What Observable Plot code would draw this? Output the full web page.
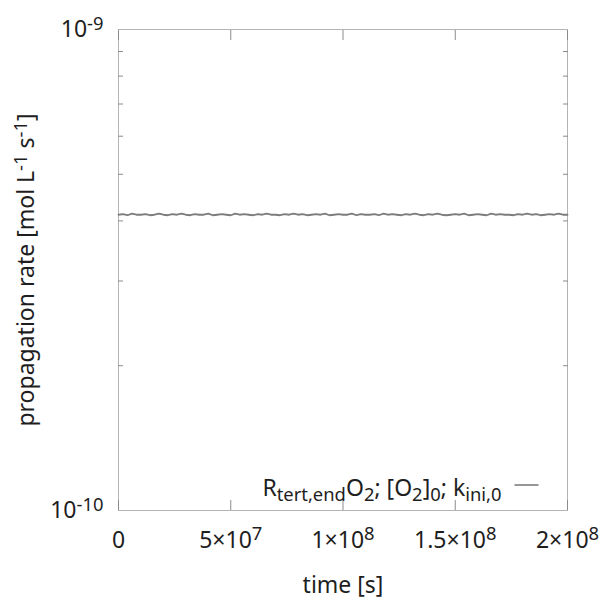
<!DOCTYPE html>
<html>
<head>
<meta charset="utf-8">
<script src="https://cdn.jsdelivr.net/npm/d3@7"></script>
<script src="https://cdn.jsdelivr.net/npm/@observablehq/plot@0.6"></script>
<style>
  body { margin: 0; background: #fff; }
  #chart svg { display: block; }
</style>
</head>
<body>
<div id="chart"></div>
<script>
// ---- data (time in units of 1e6 s, rate in units of 1e-10 mol L^-1 s^-1) ----
const timeMillions = [
  0, 2, 4, 6, 8, 10, 12, 14, 16, 18,
  20, 22, 24, 26, 28, 30, 32, 34, 36, 38,
  40, 42, 44, 46, 48, 50, 52, 54, 56, 58,
  60, 62, 64, 66, 68, 70, 72, 74, 76, 78,
  80, 82, 84, 86, 88, 90, 92, 94, 96, 98,
  100, 102, 104, 106, 108, 110, 112, 114, 116, 118,
  120, 122, 124, 126, 128, 130, 132, 134, 136, 138,
  140, 142, 144, 146, 148, 150, 152, 154, 156, 158,
  160, 162, 164, 166, 168, 170, 172, 174, 176, 178,
  180, 182, 184, 186, 188, 190, 192, 194, 196, 198,
  200
];
const rateE10 = [
  4.12, 4.13, 4.11, 4.14, 4.12, 4.12, 4.13, 4.11, 4.12, 4.14,
  4.12, 4.11, 4.13, 4.12, 4.14, 4.12, 4.11, 4.13, 4.12, 4.12,
  4.14, 4.11, 4.12, 4.13, 4.12, 4.11, 4.14, 4.12, 4.13, 4.12,
  4.11, 4.13, 4.12, 4.14, 4.12, 4.12, 4.11, 4.13, 4.12, 4.14,
  4.12, 4.13, 4.11, 4.12, 4.13, 4.12, 4.14, 4.11, 4.12, 4.13,
  4.12, 4.12, 4.14, 4.11, 4.13, 4.12, 4.12, 4.13, 4.11, 4.14,
  4.12, 4.13, 4.12, 4.11, 4.13, 4.12, 4.14, 4.12, 4.11, 4.13,
  4.12, 4.14, 4.12, 4.11, 4.12, 4.13, 4.12, 4.14, 4.11, 4.12,
  4.13, 4.12, 4.11, 4.14, 4.12, 4.13, 4.12, 4.12, 4.11, 4.13,
  4.12, 4.14, 4.12, 4.13, 4.11, 4.12, 4.13, 4.12, 4.14, 4.12,
  4.12
];
const xTickValues = [0, 5e7, 1e8, 1.5e8, 2e8];
const xTickLabels = ["0", "5×10^{7}", "1×10^{8}", "1.5×10^{8}", "2×10^{8}"];
const yTickValues = [1e-10, 1e-9];
const yTickLabels = ["10^{-10}", "10^{-9}"];
const yMinorTicks = [2e-10, 3e-10, 4e-10, 5e-10, 6e-10, 7e-10, 8e-10, 9e-10];
const xLabel = "time [s]";
const yLabel = "propagation rate [mol L^{-1} s^{-1}]";
const legendLabel = "R_{tert,end}O_{2}; [O_{2}]_{0}; k_{ini,0}";

const series = timeMillions.map((t, i) => ({time: t * 1e6, rate: rateE10[i] * 1e-10}));

const FS = 23;
const LINE_COLOR = "#7c7c7c";
const TICK_COLOR = "#8c8c8c";
const LEGEND_DY = -22;

const plot = Plot.plot({
  width: 611,
  height: 599,
  marginLeft: 118,
  marginRight: 44,
  marginTop: 29,
  marginBottom: 89,
  style: {fontFamily: "'Noto Sans', sans-serif", fontSize: FS + "px", color: "#1e1e1e", background: "#fff", overflow: "visible"},
  x: {domain: [0, 2e8]},
  y: {type: "log", domain: [1e-10, 1e-9]},
  marks: [
    Plot.frame({stroke: "#b4b4b4"}),
    // inward ticks, mirrored on all sides
    Plot.axisX(xTickValues, {anchor: "bottom", tickSize: -10, tickFormat: () => "", stroke: TICK_COLOR, label: null}),
    Plot.axisX(xTickValues, {anchor: "top", tickSize: -10, tickFormat: () => "", stroke: TICK_COLOR, label: null}),
    Plot.axisY(yMinorTicks, {anchor: "left", tickSize: -5, tickFormat: () => "", stroke: TICK_COLOR, label: null}),
    Plot.axisY(yMinorTicks, {anchor: "right", tickSize: -5, tickFormat: () => "", stroke: TICK_COLOR, label: null}),
    // tick labels
    Plot.axisX(xTickValues, {anchor: "bottom", tickSize: 0, tickPadding: 21, label: null,
      tickFormat: d => xTickLabels[xTickValues.indexOf(d)]}),
    Plot.axisY(yTickValues, {anchor: "left", tickSize: 0, tickPadding: 15, label: null,
      tickFormat: d => yTickLabels[yTickValues.indexOf(d)]}),
    // data
    Plot.line(series, {x: "time", y: "rate", stroke: LINE_COLOR, strokeWidth: 1.8}),
    // axis titles
    Plot.text([xLabel], {text: d => d, frameAnchor: "bottom", textAnchor: "middle", lineAnchor: "middle", dy: 75}),
    Plot.text([yLabel], {text: d => d, frameAnchor: "left", textAnchor: "middle", lineAnchor: "middle", rotate: -90, dx: -92}),
    // legend label
    Plot.text([legendLabel], {text: d => d, frameAnchor: "bottom-right", textAnchor: "end", lineAnchor: "middle", dx: -66, dy: LEGEND_DY})
  ]
});

document.getElementById("chart").append(plot);

// ---- rich text: ^{...} superscripts and _{...} subscripts ----
function rich(el, s, fs) {
  const sel = d3.select(el);
  sel.text(null);
  const re = /([\^_])\{([^}]*)\}/g;
  const parts = [];
  let last = 0, m;
  while ((m = re.exec(s))) {
    if (m.index > last) parts.push([s.slice(last, m.index), 0]);
    parts.push([m[2], m[1] === "^" ? -1 : 1]);
    last = re.lastIndex;
  }
  if (last < s.length) parts.push([s.slice(last), 0]);
  let cur = 0;
  for (const [t, k] of parts) {
    const target = k < 0 ? -0.32 * fs : k > 0 ? 0.24 * fs : 0;
    const ts = sel.append("tspan").text(t);
    if (target !== cur) ts.attr("dy", target - cur);
    if (k) ts.attr("font-size", 0.8 * fs);
    cur = target;
  }
}

let legendEl = null;
d3.select(plot).selectAll("text").each(function() {
  const s = this.textContent;
  if (s === legendLabel) legendEl = this;
  if (/[\^_]\{/.test(s)) rich(this, s, FS);
});

// legend sample line (gnuplot-style key)
if (legendEl) {
  const svgRect = plot.getBoundingClientRect();
  const r = legendEl.getBoundingClientRect();
  const yBottom = plot.scale("y").range[0];
  const baseline = yBottom + LEGEND_DY + 0.32 * FS;
  const ly = baseline - 0.45 * FS;
  const x1 = r.right - svgRect.left + 13;
  d3.select(plot).append("line")
    .attr("x1", x1).attr("x2", x1 + 24)
    .attr("y1", ly).attr("y2", ly)
    .attr("stroke", LINE_COLOR).attr("stroke-width", 1.6);
}
</script>
</body>
</html>
